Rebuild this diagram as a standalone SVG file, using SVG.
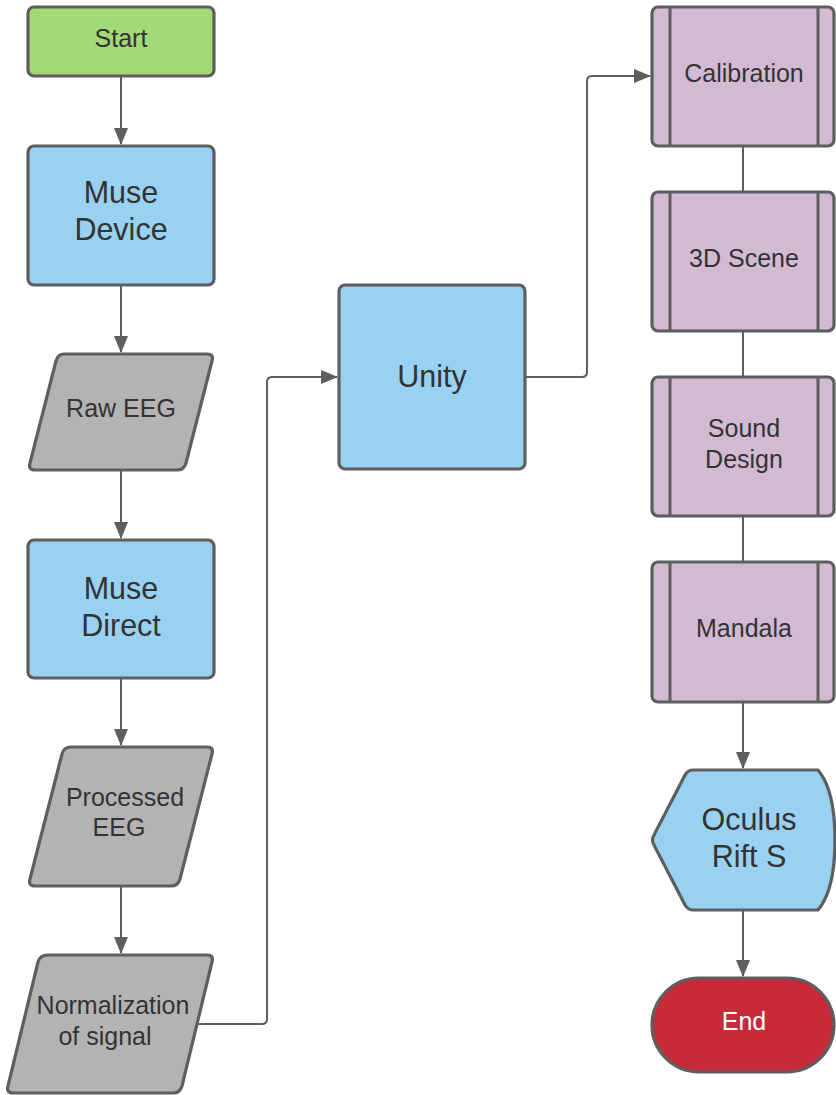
<svg xmlns="http://www.w3.org/2000/svg" width="836" height="1095" viewBox="0 0 836 1095">
<style>
.n{stroke:#5e5e5e;stroke-width:3.2;stroke-linejoin:round}
.c{fill:none;stroke:#5e5e5e;stroke-width:2}
.t{font-family:"Liberation Sans",Arial,sans-serif;fill:#333;text-anchor:middle}
.s{font-size:25px}
.l{font-size:30.5px}
.g{fill:#a3d977}.b{fill:#99d1f2}.gr{fill:#b3b3b3}.p{fill:#d3bad3}.r{fill:#c92a39}
</style>
<defs>
<marker id="ah" markerWidth="17" markerHeight="14" refX="16" refY="7" orient="auto" markerUnits="userSpaceOnUse">
<path d="M0,0 L17,7 L0,14 Z" fill="#5e5e5e"/>
</marker>
</defs>
<rect width="836" height="1095" fill="#fff"/>
<g id="connectors">
<path class="c" d="M121,76 V144" marker-end="url(#ah)"/>
<path class="c" d="M121,285 V352" marker-end="url(#ah)"/>
<path class="c" d="M121,470 V538" marker-end="url(#ah)"/>
<path class="c" d="M121,678 V745" marker-end="url(#ah)"/>
<path class="c" d="M121,886 V953" marker-end="url(#ah)"/>
<path class="c" d="M197,1024 H262 Q267,1024 267,1019 V382 Q267,377 272,377 H337" marker-end="url(#ah)"/>
<path class="c" d="M525,377 H582 Q587,377 587,372 V81 Q587,76 592,76 H650" marker-end="url(#ah)"/>
<path class="c" d="M743,146 V192"/>
<path class="c" d="M743,331 V377"/>
<path class="c" d="M743,516 V562"/>
<path class="c" d="M743,702 V768" marker-end="url(#ah)"/>
<path class="c" d="M743,910 V976" marker-end="url(#ah)"/>
</g>
<g id="start">
<rect class="n g" x="28" y="7" width="186" height="69" rx="6"/>
<text class="t s" x="121" y="47">Start</text>
</g>
<g id="muse-device">
<rect class="n b" x="28" y="146" width="186" height="139" rx="6"/>
<text class="t l" x="121" y="203">Muse</text>
<text class="t l" x="121" y="240">Device</text>
</g>
<g id="raw-eeg">
<path class="n gr" d="M64,354 H207 Q214,354 212,361 L186,463 Q184,470 177,470 H35 Q28,470 30,463 L56,361 Q58,354 64,354 Z"/>
<text class="t s" x="121" y="417">Raw EEG</text>
</g>
<g id="muse-direct">
<rect class="n b" x="28" y="540" width="186" height="138" rx="6"/>
<text class="t l" x="121" y="599">Muse</text>
<text class="t l" x="121" y="636">Direct</text>
</g>
<g id="processed-eeg">
<path class="n gr" d="M71,747 H207 Q214,747 212,754 L180,879 Q178,886 171,886 H35 Q28,886 30,879 L62,754 Q64,747 71,747 Z"/>
<text class="t s" x="125" y="806">Processed</text>
<text class="t s" x="119" y="836">EEG</text>
</g>
<g id="normalization">
<path class="n gr" d="M48,955 H207 Q214,955 212,962 L182,1086 Q180,1093 173,1093 H13 Q6,1093 8,1086 L38,962 Q40,955 48,955 Z"/>
<text class="t s" x="113" y="1014">Normalization</text>
<text class="t s" x="105" y="1045">of signal</text>
</g>
<g id="unity">
<rect class="n b" x="339" y="285" width="186" height="184" rx="6"/>
<text class="t l" x="432" y="387">Unity</text>
</g>
<g id="calibration">
<rect class="n p" x="652" y="7" width="182" height="139" rx="6"/>
<path class="c" style="stroke-width:3" d="M670,7 V146 M818,7 V146"/>
<text class="t s" x="744" y="82">Calibration</text>
</g>
<g id="scene3d">
<rect class="n p" x="652" y="192" width="182" height="139" rx="6"/>
<path class="c" style="stroke-width:3" d="M670,192 V331 M818,192 V331"/>
<text class="t s" x="744" y="267">3D Scene</text>
</g>
<g id="sound-design">
<rect class="n p" x="652" y="377" width="182" height="139" rx="6"/>
<path class="c" style="stroke-width:3" d="M670,377 V516 M818,377 V516"/>
<text class="t s" x="744" y="437">Sound</text>
<text class="t s" x="744" y="468">Design</text>
</g>
<g id="mandala">
<rect class="n p" x="652" y="562" width="182" height="140" rx="6"/>
<path class="c" style="stroke-width:3" d="M670,562 V702 M818,562 V702"/>
<text class="t s" x="744" y="637">Mandala</text>
</g>
<g id="oculus">
<path class="n b" d="M693,770 H818 Q835,790 835,840 Q835,890 818,910 H693 Q688,910 685,905 L654,845 Q651,840 654,835 L685,775 Q688,770 693,770 Z"/>
<text class="t l" x="749" y="830">Oculus</text>
<text class="t l" x="749" y="867">Rift S</text>
</g>
<g id="end">
<rect class="n r" x="652" y="978" width="182" height="94" rx="47"/>
<text class="t s" x="744" y="1030" style="fill:#fff">End</text>
</g>
</svg>
